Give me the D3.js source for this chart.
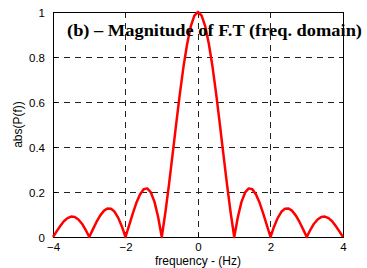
<!DOCTYPE html>
<html>
<head>
<meta charset="utf-8">
<script src="https://cdn.jsdelivr.net/npm/d3@7"></script>
<style>
  body { margin: 0; background: #fff; }
  svg { display: block; }
</style>
</head>
<body>
<svg width="367" height="268"></svg>
<script>
const freqs = [
  -4.0, -3.9, -3.8, -3.7, -3.6, -3.5, -3.4, -3.3, -3.2, -3.1,
  -3.0, -2.9, -2.8, -2.7, -2.6, -2.5, -2.4, -2.3, -2.2, -2.1,
  -2.0, -1.9, -1.8, -1.7, -1.6, -1.5, -1.4, -1.3, -1.2, -1.1,
  -1.0, -0.9, -0.8, -0.7, -0.6, -0.5, -0.4, -0.3, -0.2, -0.1,
  0.0,
  0.1, 0.2, 0.3, 0.4, 0.5, 0.6, 0.7, 0.8, 0.9, 1.0,
  1.1, 1.2, 1.3, 1.4, 1.5, 1.6, 1.7, 1.8, 1.9, 2.0,
  2.1, 2.2, 2.3, 2.4, 2.5, 2.6, 2.7, 2.8, 2.9, 3.0,
  3.1, 3.2, 3.3, 3.4, 3.5, 3.6, 3.7, 3.8, 3.9, 4.0
];
const magnitude = [
  0, 0.025, 0.049, 0.070, 0.084, 0.091, 0.089, 0.078, 0.059, 0.032,
  0, 0.034, 0.067, 0.095, 0.116, 0.127, 0.126, 0.112, 0.085, 0.047,
  0, 0.052, 0.104, 0.152, 0.189, 0.212, 0.216, 0.198, 0.156, 0.089,
  0, 0.109, 0.234, 0.368, 0.505, 0.637, 0.757, 0.858, 0.936, 0.984,
  1.0,
  0.984, 0.936, 0.858, 0.757, 0.637, 0.505, 0.368, 0.234, 0.109, 0,
  0.089, 0.156, 0.198, 0.216, 0.212, 0.189, 0.152, 0.104, 0.052, 0,
  0.047, 0.085, 0.112, 0.126, 0.127, 0.116, 0.095, 0.067, 0.034, 0,
  0.032, 0.059, 0.078, 0.089, 0.091, 0.084, 0.070, 0.049, 0.025, 0
];
const xTicks = [-4, -2, 0, 2, 4];
const yTicks = [0, 0.2, 0.4, 0.6, 0.8, 1];
const chartTitle = '(b) \u2013 Magnitude of F.T (freq. domain)';
const xLabel = 'frequency - (Hz)';
const yLabel = 'abs(P(f))';

const svg = d3.select('svg');
const margins = { top: 12, right: 24, bottom: 31, left: 53 };
const width = +svg.attr('width') - margins.left - margins.right;
const height = +svg.attr('height') - margins.top - margins.bottom;

const data = freqs.map((f, i) => ({ f, m: magnitude[i] }));

const xScale = d3.scaleLinear().domain([-4, 4]).range([0, width]);
const yScale = d3.scaleLinear().domain([0, 1]).range([height, 0]);

const chartArea = svg.append('g')
  .attr('transform', `translate(${margins.left}, ${margins.top})`);

// dashed grid
const grid = chartArea.append('g').attr('class', 'grid');
grid.selectAll('line.vgrid')
  .data(xTicks.slice(1, -1))
  .enter().append('line')
    .attr('x1', d => xScale(d)).attr('x2', d => xScale(d))
    .attr('y1', 0).attr('y2', height);
grid.selectAll('line.hgrid')
  .data(yTicks.slice(1, -1))
  .enter().append('line')
    .attr('x1', 0).attr('x2', width)
    .attr('y1', d => yScale(d)).attr('y2', d => yScale(d));
grid.selectAll('line')
  .attr('stroke', '#222')
  .attr('stroke-width', 1)
  .attr('stroke-dasharray', '6,5')
  .attr('shape-rendering', 'crispEdges');

// axes (inward ticks, MATLAB style)
const xAxis = chartArea.append('g')
  .attr('transform', `translate(0, ${height})`)
  .call(d3.axisBottom(xScale).tickValues(xTicks).tickSize(-4).tickPadding(6).tickFormat(d3.format('d')));
const yAxis = chartArea.append('g')
  .call(d3.axisLeft(yScale).tickValues(yTicks).tickSize(-4).tickPadding(8).tickFormat(d => d === 0 || d === 1 ? d : d.toFixed(1)));
[xAxis, yAxis].forEach(ax => {
  ax.select('path.domain').remove();
  ax.selectAll('line').attr('stroke', '#000');
  ax.selectAll('text')
    .attr('fill', '#000')
    .style('font-family', 'Liberation Sans, Arial, sans-serif')
    .style('font-size', '11.5px');
});
yAxis.selectAll('text').attr('dy', '0.35em');

// box
chartArea.append('rect')
  .attr('width', width).attr('height', height)
  .attr('fill', 'none')
  .attr('stroke', '#000')
  .attr('stroke-width', 1)
  .attr('shape-rendering', 'crispEdges');

// curve
const lineGenerator = d3.line()
  .x(d => xScale(d.f))
  .y(d => yScale(d.m));
chartArea.append('path')
  .attr('d', lineGenerator(data))
  .attr('fill', 'none')
  .attr('stroke', '#ff0000')
  .attr('stroke-width', 2.5)
  .attr('stroke-linejoin', 'round');

// title inside the plot
chartArea.append('text')
  .text(chartTitle)
  .attr('x', 14).attr('y', 24)
  .attr('textLength', 295)
  .attr('lengthAdjust', 'spacingAndGlyphs')
  .style('font-family', 'Liberation Serif, Times New Roman, serif')
  .style('font-weight', 'bold')
  .style('font-size', '16px')
  .attr('fill', '#000');

// axis labels
svg.append('text')
  .text(xLabel)
  .attr('x', margins.left + width / 2).attr('y', 265)
  .attr('text-anchor', 'middle')
  .style('font-family', 'Liberation Sans, Arial, sans-serif')
  .style('font-size', '12px');
svg.append('text')
  .text(yLabel)
  .attr('transform', `translate(22, ${margins.top + height / 2}) rotate(-90)`)
  .attr('text-anchor', 'middle')
  .style('font-family', 'Liberation Sans, Arial, sans-serif')
  .style('font-size', '12px');
</script>
</body>
</html>
